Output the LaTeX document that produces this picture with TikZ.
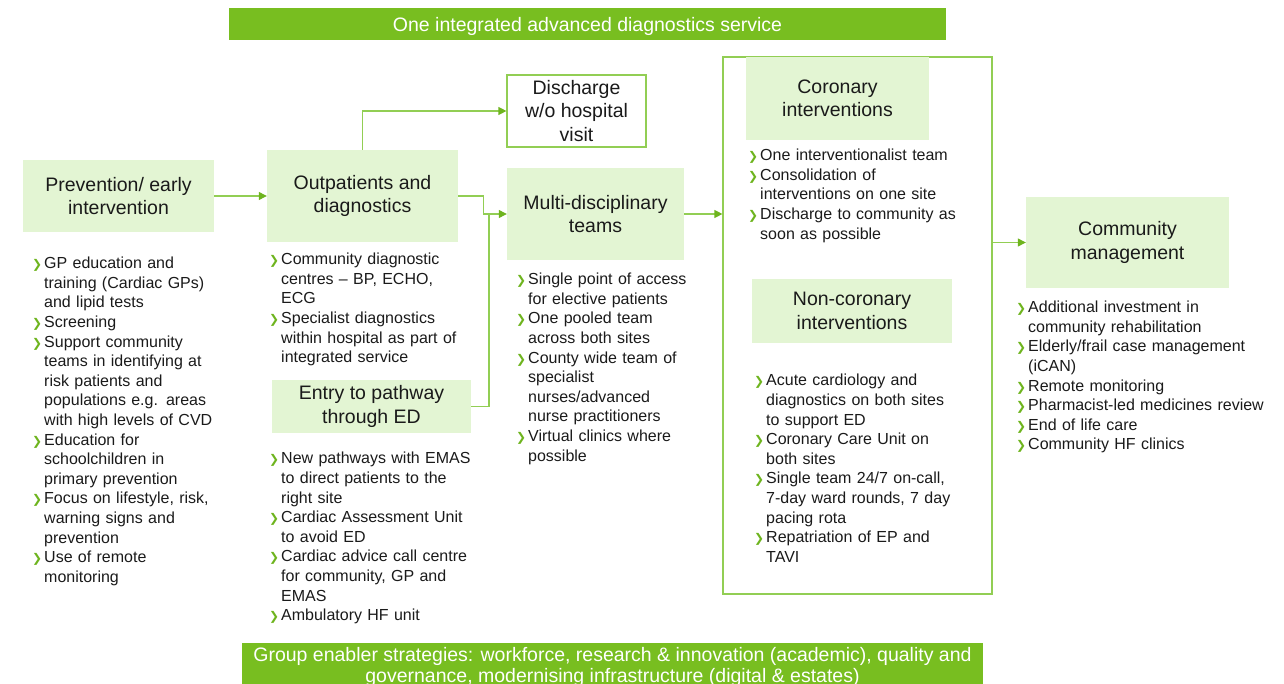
\documentclass[tikz,border=0pt]{standalone}
\usepackage{fontspec}
\setmainfont{Liberation Sans}
\newfontfamily\symfont{DejaVu Sans}
\usetikzlibrary{arrows.meta}

\definecolor{bandgreen}{RGB}{120,190,32}
\definecolor{boxgreen}{RGB}{227,245,211}
\definecolor{linegreen}{RGB}{146,206,84}
\definecolor{tipgreen}{RGB}{110,180,30}
\definecolor{textgrey}{RGB}{26,26,26}

% green chevron bullet with hanging indent, and a line break inside an item
\newcommand{\bl}{\par\noindent\hangindent=12pt\hangafter=1%
  \hbox to 12pt{\textcolor{tipgreen}{\symfont\fontsize{12}{12}\selectfont\bfseries ❯}\hss}}
\newcommand{\nl}{\hfil\break}

\tikzset{
  head/.style={fill=boxgreen, align=center, inner sep=0pt, text=textgrey,
    font=\fontsize{19.5}{23.5}\selectfont},
  items/.style={anchor=north west, inner sep=0pt, text width=#1, align=left,
    text=textgrey, font=\fontsize{16}{19.6}\selectfont},
  items/.default=260pt,
  band/.style={fill=bandgreen, text=white, align=center, inner sep=0pt},
  flow/.style={draw=linegreen, line width=1.2pt,
    -{Triangle[length=8pt,width=8pt,color=tipgreen]}},
  link/.style={draw=linegreen, line width=1.2pt}
}

\begin{document}
\begin{tikzpicture}[x=1pt, y=-1pt]
    \useasboundingbox (0,0) rectangle (1284,684);

    % Banners
    \node[band, minimum width=717pt, minimum height=32pt] (service) at (587.5,24) {};
    \node[text=white, font=\fontsize{19.5}{22}\selectfont] (servicetext) at (587.5,26)
      {One integrated advanced diagnostics service};
    \node[band, minimum width=741pt, minimum height=48pt,
      font=\fontsize{19.5}{21}\selectfont] (enabler) at (612.5,667)
      {Group enabler strategies: workforce, research \& innovation (academic), quality and\\
       governance, modernising infrastructure (digital \& estates)};

    % Frame round the interventions
    \node[draw=linegreen, line width=1.2pt, minimum width=269pt,
      minimum height=537pt, inner sep=0pt] (frame) at (857.5,325.5) {};

    % Stage boxes
    \node[head, minimum width=191pt, minimum height=72pt] (prev) at (118.5,196)
      {Prevention/ early\\intervention};
    \node[head, minimum width=191pt, minimum height=92pt] (out) at (362.5,196)
      {Outpatients and\\diagnostics};
    \node[head, fill=white, draw=linegreen, line width=1.2pt,
      minimum width=139pt, minimum height=72pt] (dis) at (576.5,111)
      {Discharge\\w/o hospital\\visit};
    \node[head, minimum width=177pt, minimum height=92pt] (mdt) at (595.5,214)
      {Multi-disciplinary\\teams};
    \node[head, minimum width=199pt, minimum height=53pt] (entry) at (371.5,406.5)
      {Entry to pathway\\through ED};
    \node[head, minimum width=183pt, minimum height=83pt] (cor) at (837.5,98.5)
      {Coronary\\interventions};
    \node[head, minimum width=200pt, minimum height=64pt] (noncor) at (852,311)
      {Non-coronary\\interventions};
    \node[head, minimum width=203pt, minimum height=91pt] (comm) at (1127.5,242.5)
      {Community\\management};

    % Connectors
    \coordinate (merge) at (489,214);
    \draw[flow] (prev.east) -- (out.west);
    \draw[flow] (out.north) |- (dis.west);
    \draw[flow] (out.east) -- ++(25,0) |- (mdt.west);
    \draw[link] (entry.east) -| (merge);
    \draw[flow] (mdt.east) -- (mdt.east -| frame.west);
    \draw[flow] (frame.east |- comm.west) -- (comm.west);

    % Bullet lists
    \node[items] (prevlist) at (32,249) {%
      \bl GP education and\nl training (Cardiac GPs)\nl and lipid tests
      \bl Screening
      \bl Support community\nl teams in identifying at\nl risk patients and\nl populations e.g. areas\nl with high levels of CVD
      \bl Education for\nl schoolchildren in\nl primary prevention
      \bl Focus on lifestyle, risk,\nl warning signs and\nl prevention
      \bl Use of remote\nl monitoring\par};
    \node[items] (outlist) at (269,245) {%
      \bl Community diagnostic\nl centres -- BP, ECHO,\nl ECG
      \bl Specialist diagnostics\nl within hospital as part of\nl integrated service\par};
    \node[items] (entrylist) at (269,444) {%
      \bl New pathways with EMAS\nl to direct patients to the\nl right site
      \bl Cardiac Assessment Unit\nl to avoid ED
      \bl Cardiac advice call centre\nl for community, GP and\nl EMAS
      \bl Ambulatory HF unit\par};
    \node[items] (mdtlist) at (516,265) {%
      \bl Single point of access\nl for elective patients
      \bl One pooled team\nl across both sites
      \bl County wide team of\nl specialist\nl nurses/advanced\nl nurse practitioners
      \bl Virtual clinics where\nl possible\par};
    \node[items] (corlist) at (748,141) {%
      \bl One interventionalist team
      \bl Consolidation of\nl interventions on one site
      \bl Discharge to community as\nl soon as possible\par};
    \node[items] (noncorlist) at (754,366) {%
      \bl Acute cardiology and\nl diagnostics on both sites\nl to support ED
      \bl Coronary Care Unit on\nl both sites
      \bl Single team 24/7 on-call,\nl 7-day ward rounds, 7 day\nl pacing rota
      \bl Repatriation of EP and\nl TAVI\par};
    \node[items] (commlist) at (1016,293) {%
      \bl Additional investment in\nl community rehabilitation
      \bl Elderly/frail case management\nl (iCAN)
      \bl Remote monitoring
      \bl Pharmacist-led medicines review
      \bl End of life care
      \bl Community HF clinics\par};
\end{tikzpicture}
\end{document}
